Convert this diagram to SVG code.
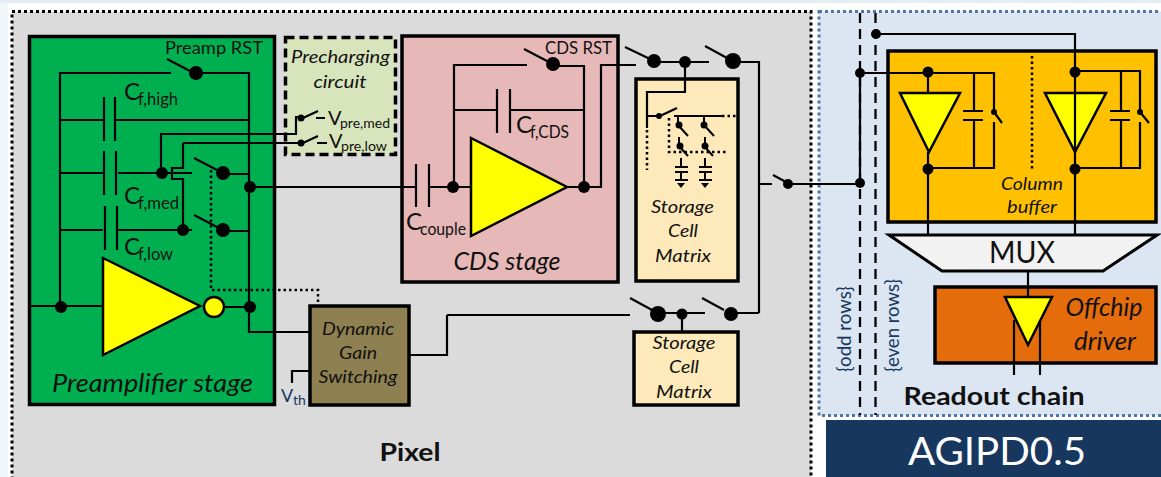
<svg xmlns="http://www.w3.org/2000/svg" width="1161" height="477" viewBox="0 0 1161 477">
<style>
text{font-family:Lato,"Liberation Sans",Arial,sans-serif;fill:#111}
.w{fill:none;stroke:#000;stroke-width:2.2}
.d{fill:none;stroke:#000;stroke-width:2.5;stroke-dasharray:2.5 3}
.t{fill:none;stroke:#000;stroke-width:2}
.b{stroke:#000;stroke-width:3.5}
.amp{fill:#ff0;stroke:#000;stroke-width:2.5;stroke-linejoin:miter}
.i{font-style:italic}
.m{text-anchor:middle}
circle{fill:#000}
</style>
<rect width="1161" height="477" fill="#fff"/>
<rect width="8" height="477" fill="#f1f6fb"/>
<rect width="1161" height="3" fill="#e6edf5"/>
<g id="pixel">
<rect x="12" y="11.500" width="799" height="470" fill="#dbdbdb" stroke="#000" stroke-width="3" stroke-dasharray="3 3"/>
<text x="410" y="461" class="m" font-size="25" font-weight="bold" textLength="61" lengthAdjust="spacingAndGlyphs">Pixel</text>
</g>
<g id="readout">
<rect x="819" y="11.500" width="350" height="404" fill="#dce6f2" stroke="#4f76a3" stroke-width="3" stroke-dasharray="3 3"/>
<text x="994" y="405" class="m" font-size="25" font-weight="bold" textLength="181" lengthAdjust="spacingAndGlyphs">Readout chain</text>
<text transform="translate(851 329) rotate(-90)" class="m" font-size="19" textLength="86" lengthAdjust="spacingAndGlyphs" style="fill:#17375e">{odd rows}</text>
<text transform="translate(899 325.500) rotate(-90)" class="m" font-size="19" textLength="93" lengthAdjust="spacingAndGlyphs" style="fill:#17375e">{even rows}</text>
</g>
<g id="agipd">
<rect x="826" y="420" width="335" height="57" fill="#17375e"/>
<text x="997" y="465" class="m" font-size="38" textLength="178" lengthAdjust="spacingAndGlyphs" style="fill:#fff">AGIPD0.5</text>
</g>
<g id="preamp">
<rect x="29.500" y="36.500" width="245" height="368" fill="#00b050" class="b"/>
<path class="amp" d="M103 258L200 306L103 355Z"/>
<circle cx="214" cy="307" r="10" style="fill:#ff0;stroke:#000;stroke-width:2.500"/>
<text x="52" y="392" class="i" font-size="25" textLength="201" lengthAdjust="spacingAndGlyphs">Preamplifier stage</text>
<text x="165" y="54" font-size="17" textLength="98" lengthAdjust="spacingAndGlyphs">Preamp RST</text>
<text x="124" y="100" font-size="24">C</text><text x="138" y="105" font-size="18" textLength="40" lengthAdjust="spacingAndGlyphs">f,high</text>
<text x="124" y="204" font-size="24">C</text><text x="138" y="209" font-size="18" textLength="41" lengthAdjust="spacingAndGlyphs">f,med</text>
<text x="124" y="255" font-size="24">C</text><text x="138" y="260" font-size="18" textLength="35" lengthAdjust="spacingAndGlyphs">f,low</text>
</g>
<g id="precharge">
<rect x="285.500" y="37.500" width="110" height="117" fill="#d8e4bc" stroke="#000" stroke-width="3.500" stroke-dasharray="9 5"/>
<text x="340.500" y="63" class="i m" font-size="18" textLength="99" lengthAdjust="spacingAndGlyphs">Precharging</text>
<text x="340" y="88" class="i m" font-size="18" textLength="53" lengthAdjust="spacingAndGlyphs">circuit</text>
<text x="328" y="125" font-size="20">V</text><text x="340" y="128" font-size="14" textLength="50" lengthAdjust="spacingAndGlyphs">pre,med</text>
<text x="329" y="148" font-size="20">V</text><text x="341" y="151" font-size="14" textLength="46" lengthAdjust="spacingAndGlyphs">pre,low</text>
</g>
<g id="cds">
<rect x="402" y="36" width="216" height="246" fill="#e6b8b7" class="b"/>
<path class="amp" d="M471 138L567 187L471 236Z"/>
<text x="545" y="54" font-size="17" textLength="67" lengthAdjust="spacingAndGlyphs">CDS RST</text>
<text x="516" y="133" font-size="24">C</text><text x="530" y="138" font-size="18" textLength="39" lengthAdjust="spacingAndGlyphs">f,CDS</text>
<text x="406" y="230" font-size="24">C</text><text x="420" y="235" font-size="18" textLength="46" lengthAdjust="spacingAndGlyphs">couple</text>
<text x="507" y="270" class="i m" font-size="25" textLength="107" lengthAdjust="spacingAndGlyphs">CDS stage</text>
</g>
<g id="storage1">
<rect x="636" y="79" width="102" height="202" fill="#fde9b9" class="b"/>
<text x="682.500" y="213" class="i m" font-size="18" textLength="63" lengthAdjust="spacingAndGlyphs">Storage</text>
<text x="683" y="237" class="i m" font-size="18" textLength="30" lengthAdjust="spacingAndGlyphs">Cell</text>
<text x="683" y="262" class="i m" font-size="18" textLength="56" lengthAdjust="spacingAndGlyphs">Matrix</text>
</g>
<g id="storage2">
<rect x="634" y="332" width="104" height="73" fill="#fde9b9" class="b"/>
<text x="684" y="349" class="i m" font-size="18" textLength="63" lengthAdjust="spacingAndGlyphs">Storage</text>
<text x="684" y="373" class="i m" font-size="18" textLength="30" lengthAdjust="spacingAndGlyphs">Cell</text>
<text x="684" y="398" class="i m" font-size="18" textLength="56" lengthAdjust="spacingAndGlyphs">Matrix</text>
</g>
<g id="dgs">
<rect x="310" y="306" width="99" height="99" fill="#8e8050" class="b"/>
<text x="358" y="335" class="i m" font-size="17" textLength="72" lengthAdjust="spacingAndGlyphs">Dynamic</text>
<text x="358" y="359" class="i m" font-size="17" textLength="38" lengthAdjust="spacingAndGlyphs">Gain</text>
<text x="358" y="383" class="i m" font-size="17" textLength="79" lengthAdjust="spacingAndGlyphs">Switching</text>
</g>
<g id="vth">
<text x="281" y="402" font-size="18" style="fill:#17375e">V</text><text x="293" y="405" font-size="14" style="fill:#17375e">th</text>
</g>
<g id="column-buffer">
<rect x="888" y="51" width="268" height="171" fill="#ffc000" class="b"/>
<path class="amp" d="M900 93H960L929 152Z"/>
<path class="amp" d="M1045 93H1106L1075 152Z"/>
<text x="1032" y="190" class="i m" font-size="18" textLength="62" lengthAdjust="spacingAndGlyphs">Column</text>
<text x="1032" y="213" class="i m" font-size="18" textLength="50" lengthAdjust="spacingAndGlyphs">buffer</text>
</g>
<g id="mux">
<path d="M889 235H1157L1103 271H942Z" fill="#f2f2f2" stroke="#000" stroke-width="3"/>
<text x="1022" y="263" class="m" font-size="31" textLength="66" lengthAdjust="spacingAndGlyphs">MUX</text>
</g>
<g id="offchip">
<rect x="935" y="287" width="221" height="76" fill="#e46c0a" class="b"/>
<path class="amp" d="M1005 297H1052L1028 345Z"/>
<text x="1104" y="316" class="i m" font-size="25" textLength="77" lengthAdjust="spacingAndGlyphs">Offchip</text>
<text x="1105" y="350" class="i m" font-size="25" textLength="62" lengthAdjust="spacingAndGlyphs">driver</text>
</g>
<g id="connectors">
<!-- preamplifier -->
<path class="w" d="M171 73H60V306M167 59L190 71M196 73H249V332H310M60 120H103M115 120H249M60 173H103M118 173H192M60 230H103M118 230H192"/>
<path class="w" d="M104 97V141M115 97V141M104 151V195M116 151V195M105 206V250M117 206V250"/>
<path class="w" d="M161 173V134H296V117H301M183 143H301M183 143V168H172V179H183V230M303 118L318 111M303 143L318 136M316 118H325M317 143H327"/>
<path class="w" d="M194 158L217 170M223 174H249M194 215L217 227M223 231H249M250 187H415M29 306H103M224 307H250M292 383V371H310"/>
<path class="d" d="M211 170V290H318V305"/>
<circle cx="196" cy="73" r="7"/><circle cx="162" cy="173" r="6"/><circle cx="183" cy="230" r="6"/><circle cx="223" cy="173" r="7"/><circle cx="223" cy="230" r="7"/><circle cx="250" cy="187" r="6"/><circle cx="61" cy="307" r="6"/><circle cx="250" cy="307" r="6"/><circle cx="301" cy="118" r="3.500"/><circle cx="301" cy="143" r="3.500"/>
<!-- CDS -->
<path class="w" d="M416 164V207M429 164V207M429 187H470M527 65H454V187M524 49L547 61M553 66H584V187M455 110H497M510 110H584M497 89V133M510 89V133M567 187H601V65H636"/>
<circle cx="453" cy="187" r="6"/><circle cx="584" cy="187" r="6"/><circle cx="553" cy="64" r="7"/>
<!-- storage switches -->
<path class="w" d="M625 47L650 59M654 62H709M705 46L727 58M733 62H759V313M685 62V92H647V128M647 116H660M660 116L677 108M674 116H722M630 298L652 310M447 315H630M409 355H447V315M658 313H705M682 314V332M702 298L724 310M731 313H759M759 184H772M773 175L786 182"/>
<circle cx="654" cy="61" r="7"/><circle cx="685" cy="62" r="6"/><circle cx="733" cy="61" r="8"/><circle cx="658" cy="314" r="8"/><circle cx="682" cy="314" r="5.500"/><circle cx="731" cy="314" r="7"/>
<path class="d" d="M647 130V170M722 116H738M669 118V152H728"/>
<path class="t" d="M678 116V125L688 136M704 116V125L714 136M679 137V146L688 156M705 137V147L713 156M681 158V167M675 167H688M675 172H688M681 172V180M675 180H688M705 158V167M699 167H712M699 172H712M705 172V180M699 180H712"/>
<path d="M677 183H685L681 188ZM701 183H709L705 188Z"/>
<circle cx="679" cy="125" r="3.500"/><circle cx="704" cy="125" r="3.500"/><circle cx="680" cy="146" r="3.500"/><circle cx="705" cy="146" r="3.500"/><circle cx="659" cy="116" r="3"/>
<!-- readout -->
<path d="M860 13V415M875.500 13V415" fill="none" stroke="#000" stroke-width="2.300" stroke-dasharray="10 6"/>
<path class="w" d="M788 184H860V73H994V112M994 122V168H929M974 72V111M963 111H983M963 120H983M974 120V169M928 72V93M928 152V235M994 112L1002 123M876 34H1075V235M1075 71H1140V112M1140 122V168H1075M1121 72V111M1110 111H1130M1110 120H1130M1121 120V169M1140 112L1149 123M1028 271V297M1014 320V375M1040 320V375"/>
<path class="d" d="M1032 56V170"/>
<circle cx="788" cy="184" r="5"/><circle cx="860" cy="183" r="5"/><circle cx="860" cy="73" r="5"/><circle cx="876" cy="34" r="5"/><circle cx="928" cy="72" r="5.500"/><circle cx="928" cy="169" r="5.500"/><circle cx="1075" cy="72" r="5.500"/><circle cx="1075" cy="169" r="5.500"/><circle cx="994" cy="112" r="3"/><circle cx="1140" cy="112" r="3"/>
</g>
</svg>
